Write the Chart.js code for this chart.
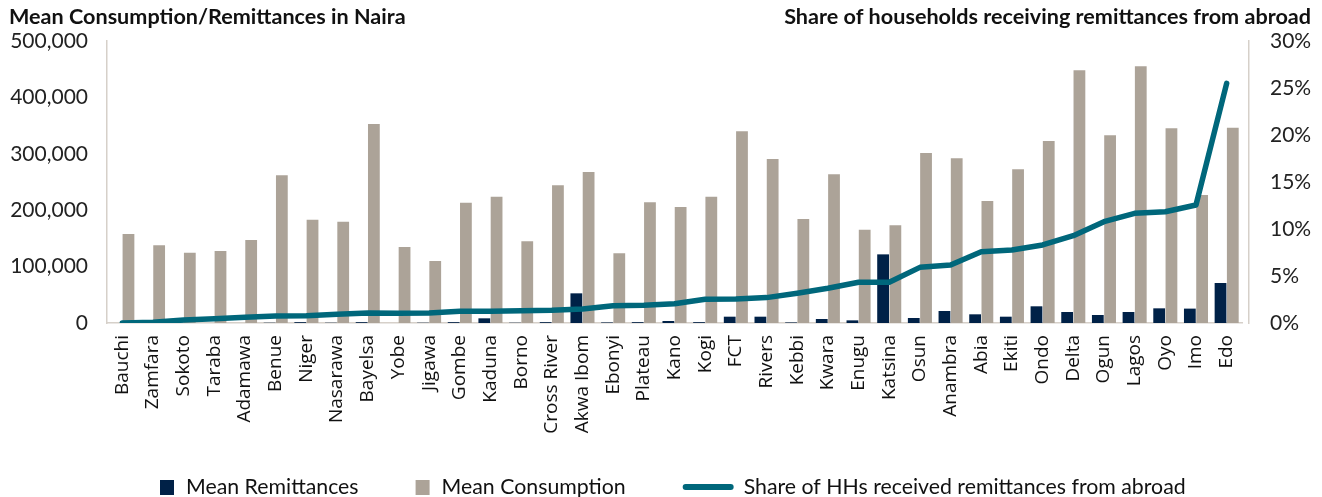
<!DOCTYPE html>
<html>
<head>
<meta charset="utf-8">
<script src="https://cdn.jsdelivr.net/npm/chart.js@4"></script>
<style>
  html, body { margin: 0; padding: 0; background: #fff; }
  canvas { display: block; }
</style>
</head>
<body>
<canvas id="myChart" width="1322" height="497"></canvas>
<script>
// states, sorted by share of households receiving remittances
const states = ['Bauchi', 'Zamfara', 'Sokoto', 'Taraba', 'Adamawa', 'Benue', 'Niger', 'Nasarawa', 'Bayelsa',
  'Yobe', 'Jigawa', 'Gombe', 'Kaduna', 'Borno', 'Cross River', 'Akwa Ibom', 'Ebonyi', 'Plateau', 'Kano',
  'Kogi', 'FCT', 'Rivers', 'Kebbi', 'Kwara', 'Enugu', 'Katsina', 'Osun', 'Anambra', 'Abia', 'Ekiti',
  'Ondo', 'Delta', 'Ogun', 'Lagos', 'Oyo', 'Imo', 'Edo'];

// Naira
const meanRemittances = [0, 0, 500, 0, 0, 500, 1500, 500, 1500, 0, 500, 1500, 8300, 500, 1500, 52600, 1000,
  1500, 3500, 1500, 11200, 11200, 1000, 7100, 4700, 121700, 8900, 21300, 15400, 11200, 29600, 19500,
  14200, 19500, 26000, 25500, 70900];

const meanConsumption = [157800, 137700, 124700, 127700, 147200, 261800, 183200, 179600, 352800, 134800,
  109900, 213400, 224000, 144800, 244100, 267700, 123500, 213900, 205700, 224000, 339800, 290800, 184400,
  263600, 165500, 173100, 301400, 292000, 216300, 272400, 322700, 448000, 332700, 455100, 345100, 227000,
  346300];

// percent
const shareReceiving = [0.0, 0.07, 0.32, 0.46, 0.6, 0.74, 0.78, 0.92, 1.06, 1.05, 1.06, 1.24, 1.24, 1.31,
  1.35, 1.49, 1.84, 1.88, 2.05, 2.52, 2.55, 2.7, 3.16, 3.69, 4.33, 4.33, 5.92, 6.17, 7.59, 7.77, 8.3, 9.29,
  10.78, 11.67, 11.84, 12.55, 25.5];

const leftTitle = 'Mean Consumption/Remittances in Naira';
const rightTitle = 'Share of households receiving remittances from abroad';

const NAVY = '#002147';
const GREY = '#aca398';
const TEAL = '#00677b';
const AXIS = '#d6d0c9';

// titles + legend drawn by hand, Excel style
const overlay = {
  id: 'overlay',
  afterLayout(chart) {
    // plot area in the original stops a bit short of the right axis
    const x = chart.scales.x;
    x.right -= 7;
    x.width -= 7;
    x.configure();
  },
  afterDraw(chart) {
    const ctx = chart.ctx;
    ctx.save();
    ctx.fillStyle = '#111';
    ctx.textBaseline = 'middle';
    ctx.font = 'bold 21.6px Lato';
    ctx.textAlign = 'left';
    ctx.fillText(leftTitle, 9, 17);
    ctx.textAlign = 'right';
    ctx.fillText(rightTitle, 1311, 17);

    // legend
    ctx.font = '21.3px Lato';
    ctx.textAlign = 'left';
    const y = 487;
    let cx = 160;
    chart.data.datasets.forEach(ds => {
      if (ds.type === 'line') {
        ctx.strokeStyle = ds.borderColor;
        ctx.lineWidth = 6;
        ctx.lineCap = 'round';
        ctx.beginPath();
        ctx.moveTo(cx + 3, y);
        ctx.lineTo(cx + 48, y);
        ctx.stroke();
        cx += 61;
      } else {
        ctx.fillStyle = ds.backgroundColor;
        ctx.fillRect(cx, y - 7, 14, 15);
        cx += 26;
      }
      ctx.fillStyle = '#111';
      ctx.fillText(ds.label, cx, y);
      cx += ctx.measureText(ds.label).width + 57;
    });
    ctx.restore();
  }
};

const ctx = document.getElementById('myChart').getContext('2d');
new Chart(ctx, {
  data: {
    labels: states,
    datasets: [
      { type: 'bar', label: 'Mean Remittances', data: meanRemittances, backgroundColor: NAVY,
        yAxisID: 'y', order: 1, categoryPercentage: 0.8, barPercentage: 0.96 },
      { type: 'bar', label: 'Mean Consumption', data: meanConsumption, backgroundColor: GREY,
        yAxisID: 'y', order: 1, categoryPercentage: 0.8, barPercentage: 0.96 },
      { type: 'line', label: 'Share of HHs received remittances from abroad', data: shareReceiving,
        yAxisID: 'y1', borderColor: TEAL, backgroundColor: TEAL, borderWidth: 5.5, pointRadius: 0,
        tension: 0, borderJoinStyle: 'round', borderCapStyle: 'round', order: 0 }
    ]
  },
  options: {
    responsive: false,
    animation: false,
    devicePixelRatio: 1,
    layout: { padding: { top: 41, left: 0, right: 0, bottom: 0 } },
    plugins: {
      legend: { display: false },
      tooltip: { enabled: false }
    },
    scales: {
      x: {
        grid: { display: false, drawTicks: false },
        border: { color: AXIS, width: 1.5 },
        ticks: {
          autoSkip: false, maxRotation: 90, minRotation: 90, padding: 12,
          color: '#111', font: { family: 'Open Sans', size: 19 }
        },
        afterFit: s => { s.height = 174; }
      },
      y: {
        position: 'left',
        min: 0, max: 500000,
        grid: { display: false, drawTicks: false },
        border: { color: AXIS, width: 1.5 },
        ticks: {
          stepSize: 100000, padding: 19, color: '#222',
          font: { family: 'Lato', size: 21 },
          callback: v => v.toLocaleString('en-US')
        },
        afterFit: s => { s.width = 107; }
      },
      y1: {
        position: 'right',
        min: 0, max: 30,
        grid: { display: false, drawTicks: false },
        border: { color: AXIS, width: 1.5 },
        ticks: {
          stepSize: 5, padding: 21, color: '#222',
          font: { family: 'Lato', size: 21 },
          callback: v => v + '%'
        },
        afterFit: s => { s.width = 73; }
      }
    }
  },
  plugins: [overlay]
});
</script>
</body>
</html>
